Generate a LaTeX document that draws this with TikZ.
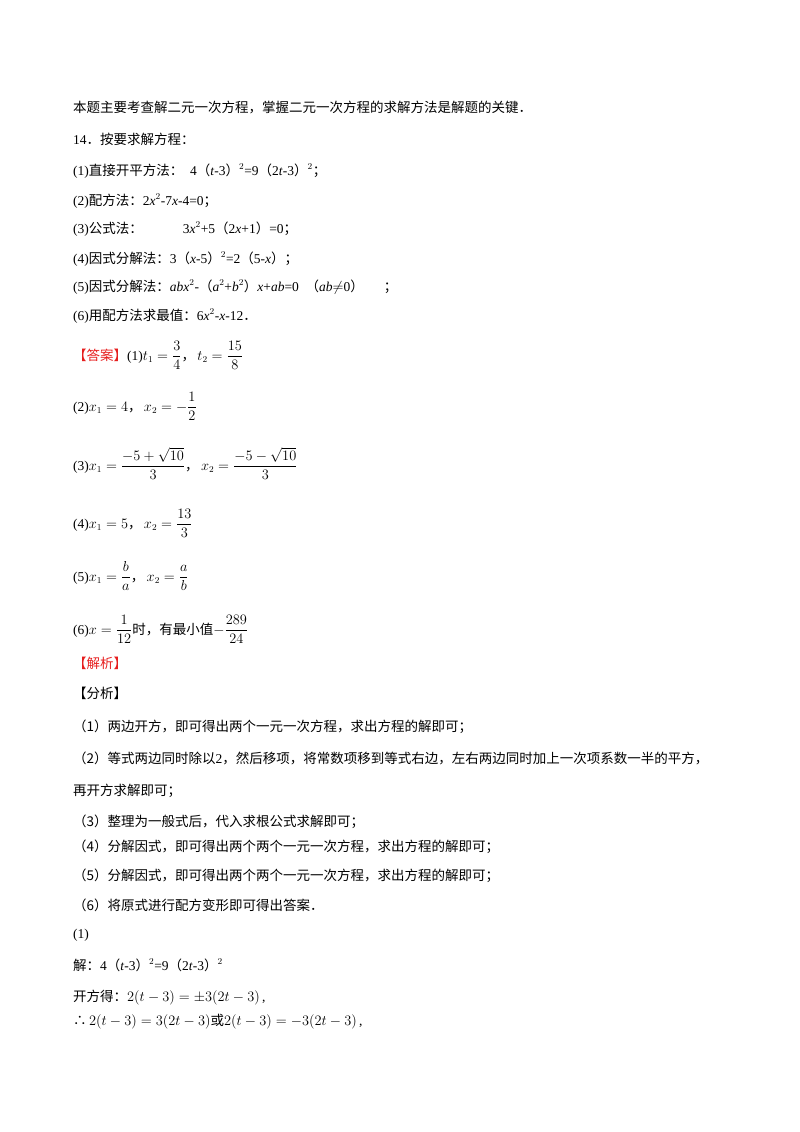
\documentclass[tikz,border=0pt]{standalone}
\usepackage{amsmath}
\usepackage{fontspec}
\setmainfont{Liberation Serif}
\newfontfamily\cjk{Noto Sans CJK SC}
\newcommand{\zh}[1]{{\cjk #1}}
\definecolor{ansred}{RGB}{230,30,30}
\begin{document}
\begin{tikzpicture}[x=1pt,y=1pt,every node/.style={inner sep=0pt,font=\fontsize{13.5}{16}\selectfont}]
\useasboundingbox (0,0) rectangle (800,-1132);
\newcommand{\tline}[4][73]{\node[anchor=base west] (#2) at (#1,-#3) {#4};}
\tline{l1}{112}{\zh{本题主要考查解二元一次方程，掌握二元一次方程的求解方法是解题的关键．}}
\tline{l2}{144}{14\zh{．按要求解方程：}}
\tline{l3}{175}{(1)\zh{直接开平方法：} \ 4\zh{（}\textit{t}-3\zh{）}$^2$=9\zh{（}2\textit{t}-3\zh{）}$^2$\zh{；}}
\tline{l4}{205}{(2)\zh{配方法：}2\textit{x}$^2$-7\textit{x}-4=0\zh{；}}
\tline{l5}{233}{(3)\zh{公式法：}\hspace{40pt}3\textit{x}$^2$+5\zh{（}2\textit{x}+1\zh{）}=0\zh{；}}
\tline{l6}{263}{(4)\zh{因式分解法：}3\zh{（}\textit{x}-5\zh{）}$^2$=2\zh{（}5-\textit{x}\zh{）；}}
\tline{l7}{291}{(5)\zh{因式分解法：}\textit{abx}$^2$-\zh{（}\textit{a}$^2$+\textit{b}$^2$\zh{）}\textit{x}+\textit{ab}=0\ \ \zh{（}\textit{ab}$\neq$0\zh{）}\hspace{20pt}\zh{；}}
\tline{l8}{320}{(6)\zh{用配方法求最值：}6\textit{x}$^2$-\textit{x}-12\zh{．}}
\tline{a1}{360}{\textcolor{ansred}{\zh{【答案】}}(1)$t_1=\dfrac{3}{4}$\zh{，}$\,t_2=\dfrac{15}{8}$}
\tline{a2}{411}{(2)$x_1=4$\zh{，}$\,x_2=-\dfrac{1}{2}$}
\tline{a3}{470}{(3)$x_1=\dfrac{-5+\sqrt{10}}{3}$\zh{，}$\,x_2=\dfrac{-5-\sqrt{10}}{3}$}
\tline{a4}{528}{(4)$x_1=5$\zh{，}$\,x_2=\dfrac{13}{3}$}
\tline{a5}{581}{(5)$x_1=\dfrac{b}{a}$\zh{，}$\,x_2=\dfrac{a}{b}$}
\tline{a6}{634}{(6)$x=\dfrac{1}{12}$\zh{时，有最小值}$-\dfrac{289}{24}$}
\tline{j1}{668}{\textcolor{ansred}{\zh{【解析】}}}
\tline{j2}{698}{\zh{【分析】}}
\tline{j3}{731}{\zh{（1）两边开方，即可得出两个一元一次方程，求出方程的解即可；}}
\tline{j4}{763}{\zh{（2）等式两边同时除以}2\zh{，然后移项，将常数项移到等式右边，左右两边同时加上一次项系数一半的平方，}}
\tline{j5}{795}{\zh{再开方求解即可；}}
\tline{j6}{826}{\zh{（3）整理为一般式后，代入求根公式求解即可；}}
\tline{j7}{851}{\zh{（4）分解因式，即可得出两个两个一元一次方程，求出方程的解即可；}}
\tline{j8}{880}{\zh{（5）分解因式，即可得出两个两个一元一次方程，求出方程的解即可；}}
\tline{j9}{910}{\zh{（6）将原式进行配方变形即可得出答案．}}
\tline{s1}{938}{(1)}
\tline{s2}{970}{\zh{解：}4\zh{（}\textit{t}-3\zh{）}$^2$=9\zh{（}2\textit{t}-3\zh{）}$^2$}
\tline{s3}{1001}{\zh{开方得：}$2(t-3)=\pm3(2t-3)$\,,}
\tline{s4}{1025}{\zh{∴}$\,2(t-3)=3(2t-3)$\zh{或}$2(t-3)=-3(2t-3)$\,,}
\end{tikzpicture}
\end{document}
